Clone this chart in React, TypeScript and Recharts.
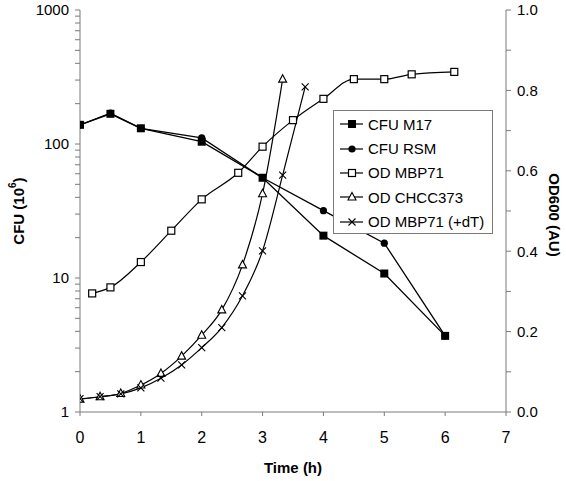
import { LineChart, Line, XAxis, YAxis, Legend, Label } from 'recharts';

// CFU counts (10^6), log axis
const cfuTimes = [0, 0.5, 1, 2, 3, 4, 5, 6];
const cfuM17 = [139, 168, 131, 104, 56, 20.7, 10.8, 3.7];
const cfuRSM = [139, 170, 131, 111, 56, 31.8, 18.2, 3.7];

// OD600 readings, right axis
const odMbpTimes = [0.2, 0.5, 1, 1.5, 2, 2.6, 3, 3.5, 4, 4.5, 5, 5.45, 6.15];
const odMbp = [0.295, 0.31, 0.373, 0.451, 0.529, 0.595, 0.66, 0.726, 0.779, 0.828, 0.828, 0.84, 0.846];

const odChccTimes = [0, 0.33, 0.67, 1, 1.33, 1.67, 2, 2.33, 2.67, 3, 3.33];
const odChcc = [0.032, 0.038, 0.046, 0.067, 0.096, 0.139, 0.191, 0.254, 0.366, 0.543, 0.828];

const odDtTimes = [0, 0.33, 0.67, 1, 1.33, 1.67, 2, 2.33, 2.67, 3, 3.33, 3.7];
const odDt = [0.033, 0.038, 0.045, 0.06, 0.084, 0.117, 0.16, 0.21, 0.289, 0.401, 0.589, 0.809];

const timeTicks = [0, 1, 2, 3, 4, 5, 6, 7];
const cfuDecades = [1, 10, 100, 1000];
const cfuTicks = [1, 2, 3, 4, 5, 6, 7, 8, 9, 10, 20, 30, 40, 50, 60, 70, 80, 90, 100, 200, 300, 400, 500, 600, 700, 800, 900, 1000];
const odTicks = [0, 0.1, 0.2, 0.3, 0.4, 0.5, 0.6, 0.7, 0.8, 0.9, 1.0];

const toRows = (ts: number[], vs: number[]) => ts.map((t, i) => ({ t, v: vs[i] }));

const FONT = '"Liberation Sans", Arial, sans-serif';
const AXIS = '#7a7a7a';

type Shape = 'filledSquare' | 'filledCircle' | 'openSquare' | 'openTriangle' | 'cross';

const Marker = ({ shape, cx, cy }: { shape: Shape; cx: number; cy: number }) => {
    switch (shape) {
        case 'filledSquare':
            return <rect x={cx - 4} y={cy - 4} width={8} height={8} fill="#000" />;
        case 'filledCircle':
            return <circle cx={cx} cy={cy} r={3.6} fill="#000" />;
        case 'openSquare':
            return <rect x={cx - 3.5} y={cy - 3.5} width={7} height={7} fill="#fff" stroke="#000" strokeWidth={1.2} />;
        case 'openTriangle':
            return <polygon points={`${cx},${cy - 4.5} ${cx + 4},${cy + 3} ${cx - 4},${cy + 3}`} fill="#fff" stroke="#000" strokeWidth={1.1} />;
        default:
            return (
                <path d={`M${cx - 3.5},${cy - 3.5}L${cx + 3.5},${cy + 3.5}M${cx + 3.5},${cy - 3.5}L${cx - 3.5},${cy + 3.5}`} stroke="#000" strokeWidth={1.1} />
            );
    }
};

const dotFor = (shape: Shape) => (props: any) => {
    const { cx, cy, index } = props;
    if (cx == null || cy == null) return <g key={index} />;
    return <Marker key={`${shape}-${index}`} shape={shape} cx={cx} cy={cy} />;
};

const legendItems: { name: string; shape: Shape }[] = [
    { name: 'CFU M17', shape: 'filledSquare' },
    { name: 'CFU RSM', shape: 'filledCircle' },
    { name: 'OD MBP71', shape: 'openSquare' },
    { name: 'OD CHCC373', shape: 'openTriangle' },
    { name: 'OD MBP71 (+dT)', shape: 'cross' },
];

const LegendBox = () => (
    <div
        style={{
            border: `1px solid ${AXIS}`,
            background: '#fff',
            width: 158,
            height: 121,
            paddingTop: 1,
            boxSizing: 'content-box',
            fontFamily: FONT,
            fontSize: 15,
            color: '#000',
        }}
    >
        {legendItems.map(item => (
            <div key={item.name} style={{ display: 'flex', alignItems: 'center', height: 24.4 }}>
                <svg width={34} height={12} style={{ marginLeft: 6, flexShrink: 0 }}>
                    <line x1={0} y1={6} x2={23} y2={6} stroke="#000" strokeWidth={1.2} />
                    <Marker shape={item.shape} cx={12} cy={6} />
                </svg>
                <span style={{ marginLeft: -6, whiteSpace: 'nowrap' }}>{item.name}</span>
            </div>
        ))}
    </div>
);

const CfuTick = ({ x, y, payload }: any) =>
    cfuDecades.includes(payload.value) ? (
        <text x={x} y={y} dy="0.36em" textAnchor="end" fontSize={15} fontFamily={FONT} fill="#000">
            {payload.value}
        </text>
    ) : (
        <g />
    );

const OdTick = ({ x, y, payload, index }: any) =>
    index % 2 === 0 ? (
        <text x={x} y={y} dy="0.36em" textAnchor="start" fontSize={15} fontFamily={FONT} fill="#000">
            {Number(payload.value).toFixed(1)}
        </text>
    ) : (
        <g />
    );

const TimeTick = ({ x, y, payload }: any) => (
    <text x={x} y={y} dy="0.71em" textAnchor="middle" fontSize={16} fontFamily={FONT} fill="#000">
        {payload.value}
    </text>
);

const CfuTitle = ({ viewBox }: any) => {
    const cx = viewBox.x + 18;
    const cy = viewBox.y + viewBox.height / 2;
    return (
        <text
            x={cx}
            y={cy}
            transform={`rotate(-90 ${cx} ${cy})`}
            textAnchor="middle"
            dominantBaseline="central"
            fontSize={15}
            fontWeight="bold"
            fontFamily={FONT}
            fill="#000"
        >
            CFU (10<tspan dy={-6} fontSize={10}>6</tspan>
            <tspan dy={6}>)</tspan>
        </text>
    );
};

const OdTitle = ({ viewBox }: any) => {
    const cx = viewBox.x + 48;
    const cy = viewBox.y + viewBox.height / 2 + 4;
    return (
        <text
            x={cx}
            y={cy}
            transform={`rotate(90 ${cx} ${cy})`}
            textAnchor="middle"
            dominantBaseline="central"
            fontSize={15}
            fontWeight="bold"
            fontFamily={FONT}
            fill="#000"
        >
            OD600 (AU)
        </text>
    );
};

const TimeTitle = ({ viewBox }: any) => (
    <text
        x={viewBox.x + viewBox.width / 2}
        y={viewBox.y + 55}
        textAnchor="middle"
        dominantBaseline="central"
        fontSize={15}
        fontWeight="bold"
        fontFamily={FONT}
        fill="#000"
    >
        Time (h)
    </text>
);

const GrowthChart = () => (
    <div style={{ position: 'absolute', left: 0, top: 0, background: '#fff' }}>
        <LineChart width={566} height={481} margin={{ top: 10, right: 0, bottom: 0, left: 0 }}>
            <XAxis
                type="number"
                dataKey="t"
                domain={[0, 7]}
                ticks={timeTicks}
                allowDataOverflow
                height={69}
                tickSize={4}
                tickMargin={16}
                tick={<TimeTick />}
                axisLine={{ stroke: AXIS }}
                tickLine={{ stroke: AXIS }}
            >
                <Label content={<TimeTitle />} />
            </XAxis>
            <YAxis
                yAxisId="cfu"
                scale="log"
                domain={[1, 1000]}
                ticks={cfuTicks}
                allowDataOverflow
                width={80}
                tickSize={5}
                tickMargin={6}
                interval={0}
                tick={<CfuTick />}
                axisLine={{ stroke: AXIS }}
                tickLine={{ stroke: AXIS }}
            >
                <Label content={<CfuTitle />} />
            </YAxis>
            <YAxis
                yAxisId="od"
                orientation="right"
                domain={[0, 1]}
                ticks={odTicks}
                allowDataOverflow
                width={60}
                tickSize={5}
                tickMargin={6}
                interval={0}
                tick={<OdTick />}
                axisLine={{ stroke: AXIS }}
                tickLine={{ stroke: AXIS }}
            >
                <Label content={<OdTitle />} />
            </YAxis>
            <Legend
                layout="vertical"
                align="center"
                verticalAlign="middle"
                content={<LegendBox />}
                wrapperStyle={{ left: 333, top: 110, width: 160, height: 123 }}
            />
            <Line
                yAxisId="od"
                data={toRows(odMbpTimes, odMbp)}
                dataKey="v"
                name="OD MBP71"
                type="monotone"
                stroke="#000"
                strokeWidth={1.2}
                dot={dotFor('openSquare')}
                isAnimationActive={false}
            />
            <Line
                yAxisId="od"
                data={toRows(odChccTimes, odChcc)}
                dataKey="v"
                name="OD CHCC373"
                type="monotone"
                stroke="#000"
                strokeWidth={1.2}
                dot={dotFor('openTriangle')}
                isAnimationActive={false}
            />
            <Line
                yAxisId="od"
                data={toRows(odDtTimes, odDt)}
                dataKey="v"
                name="OD MBP71 (+dT)"
                type="monotone"
                stroke="#000"
                strokeWidth={1.2}
                dot={dotFor('cross')}
                isAnimationActive={false}
            />
            <Line
                yAxisId="cfu"
                data={toRows(cfuTimes, cfuRSM)}
                dataKey="v"
                name="CFU RSM"
                type="linear"
                stroke="#000"
                strokeWidth={1.3}
                dot={dotFor('filledCircle')}
                isAnimationActive={false}
            />
            <Line
                yAxisId="cfu"
                data={toRows(cfuTimes, cfuM17)}
                dataKey="v"
                name="CFU M17"
                type="linear"
                stroke="#000"
                strokeWidth={1.3}
                dot={dotFor('filledSquare')}
                isAnimationActive={false}
            />
        </LineChart>
    </div>
);

export default function App() {
    return <GrowthChart />;
}
